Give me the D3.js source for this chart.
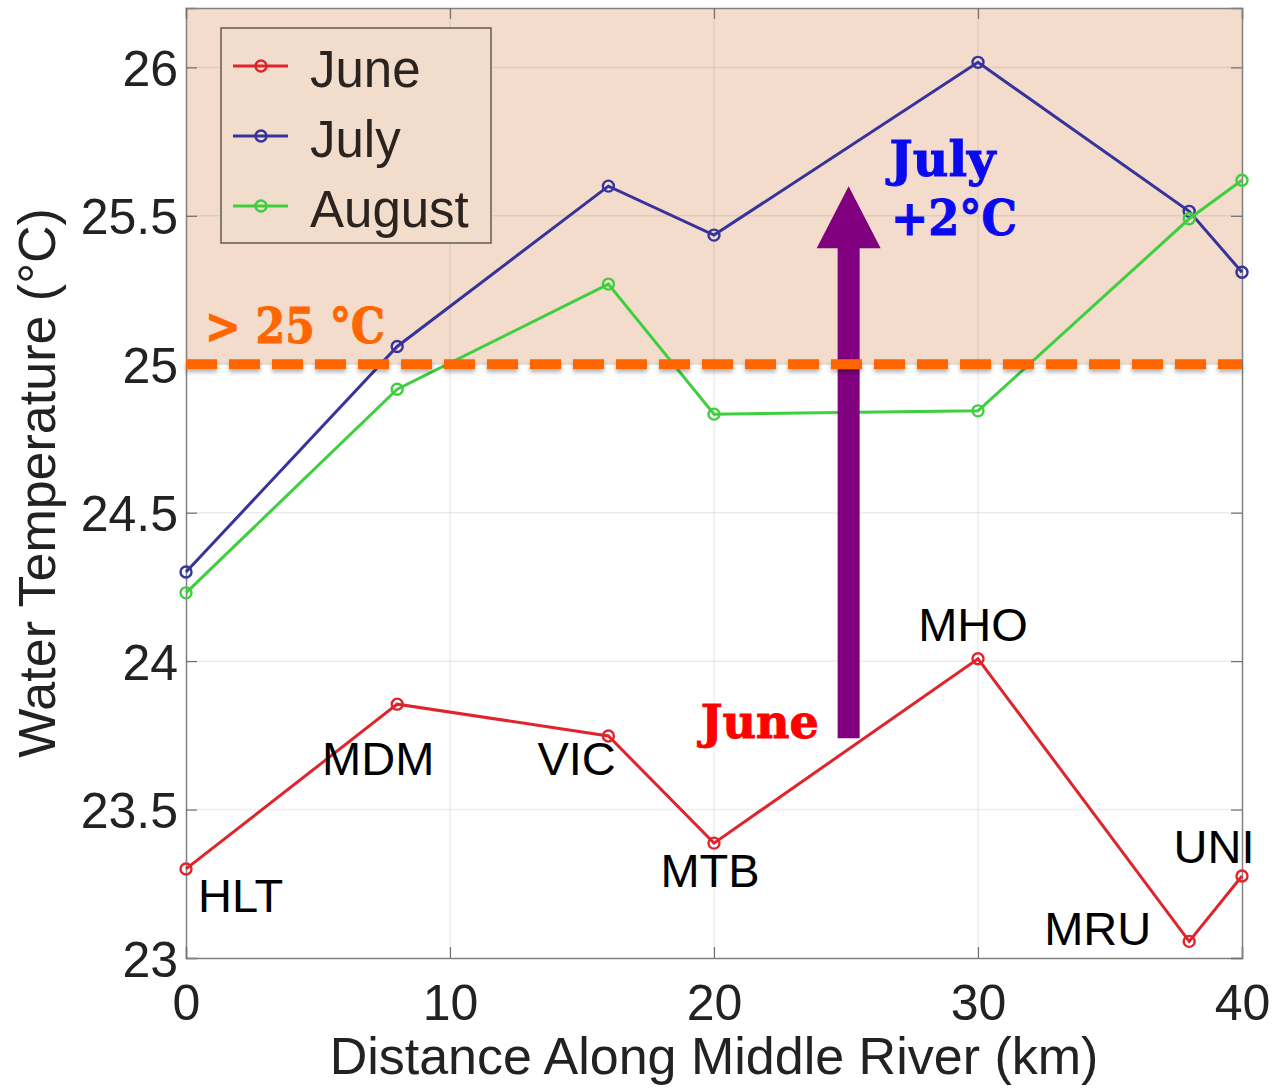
<!doctype html>
<html lang="en-US">
<head>
<meta charset="utf-8">
<title>Water Temperature along Middle River</title>
<script src="https://cdn.jsdelivr.net/npm/d3@7"></script>
<style>
  html, body { margin: 0; padding: 0; background: #fff; }
  svg { display: block; }
  text { font-family: "Liberation Sans", Arial, Helvetica, sans-serif; }
  .slab { font-family: "DejaVu Serif", serif; font-weight: bold; }
</style>
</head>
<body>
<svg id="chart" width="1288" height="1088"></svg>
<script>
// data
var distances = [0, 8, 16, 20, 30, 38, 40];
var june   = [23.30, 23.855, 23.748, 23.387, 24.008, 23.056, 23.276];
var july   = [24.30, 25.06, 25.60, 25.435, 26.017, 25.515, 25.31];
var august = [24.23, 24.916, 25.27, 24.832, 24.843, 25.49, 25.62];
var stations = ["HLT", "MDM", "VIC", "MTB", "MHO", "MRU", "UNI"];
var seriesNames = ["June", "July", "August"];
var xTicks = [0, 10, 20, 30, 40];
var yTicks = [23, 23.5, 24, 24.5, 25, 25.5, 26];
var yTickLabels = ["23", "23.5", "24", "24.5", "25", "25.5", "26"];
var threshold = 25;

var colors = { June: "#e0242c", July: "#36339c", August: "#3ecf3e" };

var margin = { top: 8, right: 46, bottom: 130, left: 186 };
var W = 1288, H = 1088;
var w = W - margin.left - margin.right;
var h = H - margin.top - margin.bottom;

var svg = d3.select("#chart");
var defs = svg.append("defs");
var f = defs.append("filter").attr("id", "shadow").attr("filterUnits", "userSpaceOnUse")
  .attr("x", -20).attr("y", -20).attr("width", 1330).attr("height", 1130);
f.append("feDropShadow").attr("dx", 0).attr("dy", 3).attr("stdDeviation", 2).attr("flood-color", "#000").attr("flood-opacity", 0.3);

var g = svg.append("g").attr("transform", "translate(" + margin.left + "," + margin.top + ")");

var x = d3.scaleLinear().domain([0, 40]).range([0, w]);
var y = d3.scaleLinear().domain([23, 26.2]).range([h, 0]);

// shaded warm zone above 25 C
g.append("rect")
  .attr("x", 0).attr("y", 0)
  .attr("width", w).attr("height", y(threshold))
  .attr("fill", "#f3dccb");

// grid
g.append("g").selectAll("line").data(xTicks.slice(1, -1)).join("line")
  .attr("x1", function(d) { return x(d); }).attr("x2", function(d) { return x(d); })
  .attr("y1", 0).attr("y2", h)
  .attr("stroke", "#000").attr("stroke-opacity", 0.07).attr("stroke-width", 1.5);
g.append("g").selectAll("line").data(yTicks.slice(1)).join("line")
  .attr("x1", 0).attr("x2", w)
  .attr("y1", function(d) { return y(d); }).attr("y2", function(d) { return y(d); })
  .attr("stroke", "#000").attr("stroke-opacity", 0.07).attr("stroke-width", 1.5);

// axes (matlab style box, ticks inward)
var yAxis = d3.axisLeft(y).tickValues(yTicks).tickSize(-11).tickPadding(8)
  .tickFormat(function(d, i) { return yTickLabels[i]; });
var xAxis = d3.axisBottom(x).tickValues(xTicks).tickSize(-11).tickPadding(25)
  .tickFormat(d3.format("d"));

var ya = g.append("g").call(yAxis);
var xa = g.append("g").attr("transform", "translate(0," + h + ")").call(xAxis);
g.append("g").call(d3.axisTop(x).tickValues(xTicks).tickSize(-11).tickFormat(""));
g.append("g").attr("transform", "translate(" + w + ",0)").call(d3.axisRight(y).tickValues(yTicks).tickSize(-11).tickFormat(""));

g.selectAll(".domain").attr("stroke", "#808080").attr("stroke-width", 1.5);
g.selectAll(".tick line").attr("stroke", "#707070").attr("stroke-width", 1.2);
ya.selectAll("text").attr("font-size", 50).attr("fill", "#222").attr("dy", "0.36em")
  .attr("font-family", "Liberation Sans, Arial, sans-serif");
xa.selectAll("text").attr("font-size", 50).attr("fill", "#222").attr("dy", "0.72em")
  .attr("font-family", "Liberation Sans, Arial, sans-serif");
xa.selectAll(".tick text").attr("y", 26);

// series
var allSeries = [
  { name: "June", values: june },
  { name: "July", values: july },
  { name: "August", values: august }
];

var line = d3.line()
  .x(function(d, i) { return x(distances[i]); })
  .y(function(d) { return y(d); });

allSeries.forEach(function(s) {
  g.append("path")
    .datum(s.values)
    .attr("d", line)
    .attr("fill", "none")
    .attr("stroke", colors[s.name])
    .attr("stroke-width", 3);
  g.append("g").selectAll("circle").data(s.values).join("circle")
    .attr("cx", function(d, i) { return x(distances[i]); })
    .attr("cy", function(d) { return y(d); })
    .attr("r", 5.5)
    .attr("fill", "none")
    .attr("stroke", colors[s.name])
    .attr("stroke-width", 2.4);
});

// station labels next to the june points
var labelOffsets = [[12, 43, "start"], [-19, 71, "middle"], [-71, 39, "start"], [-4, 44, "middle"],
                    [-5, -18, "middle"], [-38, 4, "end"], [-28, -13, "middle"]];
g.append("g").selectAll("text").data(stations).join("text")
  .attr("x", function(d, i) { return x(distances[i]) + labelOffsets[i][0]; })
  .attr("y", function(d, i) { return y(june[i]) + labelOffsets[i][1]; })
  .attr("text-anchor", function(d, i) { return labelOffsets[i][2]; })
  .attr("font-size", 47)
  .attr("fill", "#000")
  .text(function(d) { return d; });

// purple arrow june -> july
var ax = x(25.1), ay0 = y(23.74), ay1 = y(25.6);
var shaftW = 22, headW = 64, headL = 62;
g.append("polygon")
  .attr("points", [
    [ax - shaftW / 2, ay0], [ax - shaftW / 2, ay1 + headL], [ax - headW / 2, ay1 + headL],
    [ax, ay1], [ax + headW / 2, ay1 + headL], [ax + shaftW / 2, ay1 + headL], [ax + shaftW / 2, ay0]
  ].map(function(p) { return p.join(","); }).join(" "))
  .attr("fill", "#800080");

// threshold dashed line (on top of the arrow, like the original)
g.append("line")
  .attr("x1", 0).attr("x2", w)
  .attr("y1", y(threshold)).attr("y2", y(threshold))
  .attr("stroke", "#ff6600").attr("stroke-width", 10)
  .attr("stroke-dasharray", "31,12")
  .attr("filter", "url(#shadow)");

// annotations
g.append("text").attr("class", "slab")
  .attr("x", x(0.72)).attr("y", y(25.07))
  .attr("font-size", 48).attr("fill", "#ff6600")
  .attr("textLength", 180).attr("lengthAdjust", "spacingAndGlyphs")
  .attr("stroke", "#ff6600").attr("stroke-width", 1)
  .text("> 25 °C");
g.append("text").attr("class", "slab")
  .attr("x", x(19.5)).attr("y", y(23.74))
  .attr("font-size", 46).attr("fill", "#ff0000")
  .attr("textLength", 118).attr("lengthAdjust", "spacingAndGlyphs")
  .attr("stroke", "#ff0000").attr("stroke-width", 1)
  .text("June");
g.append("text").attr("class", "slab")
  .attr("x", x(26.65)).attr("y", y(25.635))
  .attr("font-size", 48).attr("fill", "#0a0af0")
  .attr("textLength", 106).attr("lengthAdjust", "spacingAndGlyphs")
  .attr("stroke", "#0a0af0").attr("stroke-width", 1)
  .text("July");
g.append("text").attr("class", "slab")
  .attr("x", x(26.7)).attr("y", y(25.435))
  .attr("font-size", 48).attr("fill", "#0a0af0")
  .attr("textLength", 126).attr("lengthAdjust", "spacingAndGlyphs")
  .attr("stroke", "#0a0af0").attr("stroke-width", 1)
  .text("+2°C");

// legend
var lg = svg.append("g").attr("transform", "translate(221,28)");
lg.append("rect")
  .attr("width", 270).attr("height", 215)
  .attr("fill", "#f2dccb").attr("stroke", "#6e625a").attr("stroke-width", 1.6);
seriesNames.forEach(function(name, i) {
  var yy = 38 + i * 70;
  lg.append("line").attr("x1", 12).attr("x2", 67).attr("y1", yy).attr("y2", yy)
    .attr("stroke", colors[name]).attr("stroke-width", 3);
  lg.append("circle").attr("cx", 40).attr("cy", yy).attr("r", 5.5)
    .attr("fill", "none").attr("stroke", colors[name]).attr("stroke-width", 2.4);
  lg.append("text").attr("x", 89).attr("y", yy + 21)
    .attr("font-size", 51).attr("fill", "#2a2320").text(name);
});

// axis titles
svg.append("text")
  .attr("x", margin.left + w / 2).attr("y", 1074)
  .attr("text-anchor", "middle").attr("font-size", 52).attr("fill", "#222")
  .text("Distance Along Middle River (km)");
svg.append("text")
  .attr("transform", "translate(55," + (margin.top + h / 2) + ") rotate(-90)")
  .attr("text-anchor", "middle").attr("font-size", 52).attr("fill", "#222")
  .text("Water Temperature (°C)");
</script>
</body>
</html>
